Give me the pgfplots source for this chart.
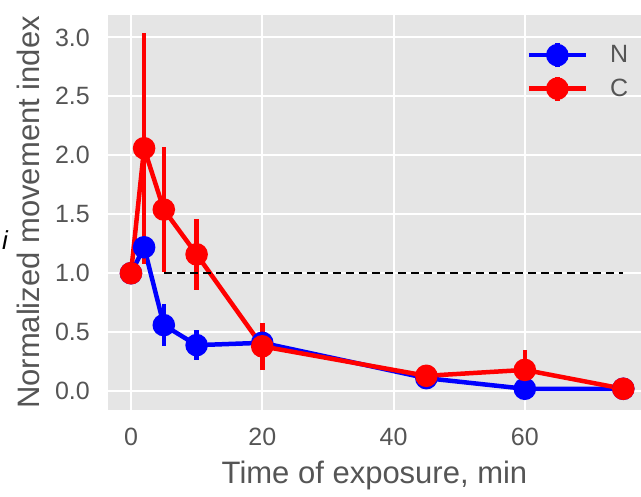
\documentclass[border=0pt]{standalone}
\usepackage{pgfplots}
\pgfplotsset{compat=1.18}
\usepackage{fontspec}
\setmainfont{Liberation Sans}
\definecolor{bggray}{HTML}{E5E5E5}
\definecolor{txtgray}{HTML}{555555}
\pgfplotstableread{
x y e
0 1.00 0.00
2 1.22 0.10
5 0.56 0.18
10 0.39 0.13
20 0.41 0.05
45 0.11 0.02
60 0.02 0.02
75 0.02 0.02
}\Ndata
\pgfplotstableread{
x y e
0 1.00 0.00
2 2.06 0.98
5 1.54 0.53
10 1.16 0.30
20 0.38 0.20
45 0.13 0.03
60 0.18 0.17
75 0.02 0.02
}\Cdata
\begin{document}
\begin{tikzpicture}[line cap=butt]
\begin{axis}[
  scale only axis,
  width=533pt, height=395pt,
  xmin=-3.5, xmax=77.7, ymin=-0.16, ymax=3.19,
  axis background/.style={fill=bggray},
  axis line style={draw=none},
  major tick length=0pt,
  xtick={0,20,40,60},
  ytick={0,0.5,1,1.5,2,2.5,3},
  /pgf/number format/assume math mode=true,
  ticklabel style={font=\fontsize{25}{29}\selectfont, text=txtgray, inner sep=0pt},
  yticklabel style={/pgf/number format/fixed, /pgf/number format/fixed zerofill, /pgf/number format/precision=1, anchor=east, xshift=-18pt},
  xticklabel style={anchor=center, yshift=-27pt},
  grid=major,
  major grid style={white, line width=2pt},
  xlabel={Time of exposure, min},
  ylabel={Normalized movement index},
  label style={font=\fontsize{31}{35}\selectfont, text=txtgray, inner sep=0pt},
  xlabel style={at={(axis description cs:0.5,0)}, anchor=center, yshift=-65pt},
  ylabel style={at={(axis description cs:-0.150,0.5)}, anchor=center},
  clip=false,
  legend style={draw=none, fill=none, at={(0.98,0.935)}, anchor=north east,
    font=\fontsize{25}{29}\selectfont, text=txtgray, row sep=5pt, inner sep=0pt,
    /tikz/every odd column/.append style={column sep=20pt}},
  legend cell align=left,
  legend image code/.code={
    \draw[line width=4.5pt] (0pt,0pt) -- (57pt,0pt);
    \draw[line width=4.5pt] (28.5pt,-12pt) -- (28.5pt,12pt);
    \fill (28.5pt,0pt) circle (9pt);
  },
]
\addplot[blue, line width=4.5pt, mark=*, mark size=9pt,
  error bars/.cd, y dir=both, y explicit,
  error bar style={line width=4.5pt}, error mark=none]
  table[x=x, y=y, y error=e] {\Ndata};
\addlegendentry{N}
\addplot[red, line width=4.5pt, mark=*, mark size=9pt,
  error bars/.cd, y dir=both, y explicit,
  error bar style={line width=4.5pt}, error mark=none]
  table[x=x, y=y, y error=e] {\Cdata};
\addlegendentry{C}
\addplot[black, line width=2pt, dash pattern=on 8pt off 5pt, forget plot] coordinates {(5,1) (75,1)};
\node[font=\fontsize{26}{30}\selectfont\itshape, text=black] at (axis cs:-19.2,1.28) {i};
\end{axis}
\pgfresetboundingbox
\path (current axis.south west) ++(-108pt,-86pt) coordinate (bbA);
\path (current axis.north east) ++(0pt,15pt) coordinate (bbB);
\path[use as bounding box] (bbA) rectangle (bbB);
\end{tikzpicture}
\end{document}
